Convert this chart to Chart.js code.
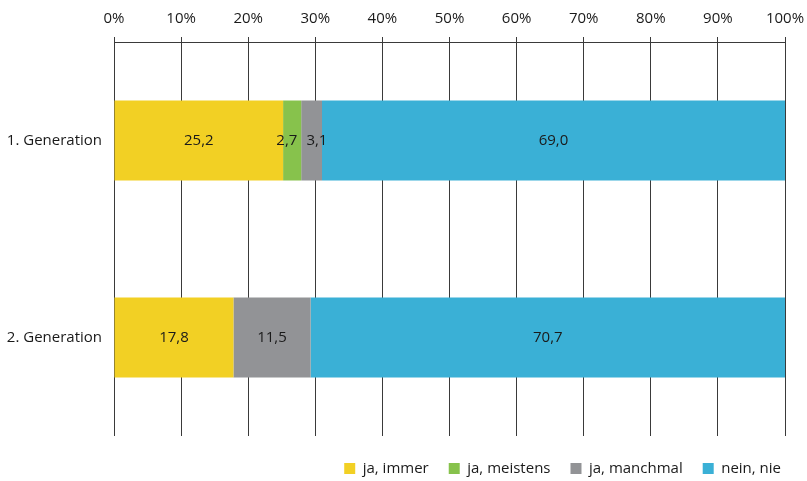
<!DOCTYPE html>
<html>
<head>
<meta charset="utf-8">
<script src="https://cdn.jsdelivr.net/npm/chart.js@4/dist/chart.umd.min.js"></script>
<style>
    html, body { margin: 0; padding: 0; background: #fff; }
    canvas { display: block; }
</style>
</head>
<body>
<canvas id="chart" width="807" height="481"></canvas>
<script>
const categories   = ['1. Generation', '2. Generation'];
const seriesNames  = ['ja, immer', 'ja, meistens', 'ja, manchmal', 'nein, nie'];
const jaImmer      = [25.2, 17.8];
const jaMeistens   = [2.7, 0];
const jaManchmal   = [3.1, 11.5];
const neinNie      = [69.0, 70.7];
const seriesColors = ['#F2D024', '#87C24C', '#929396', '#3AB0D6'];

const FONT = '"Open Sans", "Noto Sans", sans-serif';

// values written into the middle of each segment, pushed apart when they collide
const segmentLabels = {
    id: 'segmentLabels',
    afterInit(chart) {
        const legend = chart.legend;
        if (!legend) return;
        // fixed legend band under the plot, its row drawn a bit lower
        legend.afterFit = function () { this.height = 40; };
        const draw = legend.draw;
        legend.draw = function () {
            chart.ctx.save();
            chart.ctx.translate(0, 5);
            draw.call(this);
            chart.ctx.restore();
        };
    },
    afterDatasetsDraw(chart) {
        const ctx = chart.ctx;
        ctx.save();
        ctx.font = '15px ' + FONT;
        ctx.fillStyle = '#1a1a1a';
        ctx.textAlign = 'center';
        ctx.textBaseline = 'middle';
        const gap = 9;
        chart.data.labels.forEach((_, j) => {
            const items = [];
            chart.data.datasets.forEach((ds, i) => {
                const v = ds.data[j];
                if (!v) return;
                const p = chart.getDatasetMeta(i).data[j].getCenterPoint();
                const text = v.toFixed(1).replace('.', ',');
                items.push({ text, x: p.x, y: p.y, w: ctx.measureText(text).width });
            });
            for (let k = 1; k < items.length; k++) {
                const a = items[k - 1], b = items[k];
                const overlap = (a.x + a.w / 2 + gap) - (b.x - b.w / 2);
                if (overlap > 0) {
                    a.x -= overlap / 2;
                    b.x += overlap / 2;
                }
            }
            items.forEach(it => ctx.fillText(it.text, it.x, it.y));
        });
        ctx.restore();
    }
};

const seriesData = [jaImmer, jaMeistens, jaManchmal, neinNie];

new Chart(document.getElementById('chart'), {
    type: 'bar',
    data: {
        labels: categories,
        datasets: seriesNames.map((name, i) => ({
            label: name,
            data: seriesData[i],
            backgroundColor: seriesColors[i],
            borderWidth: 0,
            barPercentage: 0.81,
            categoryPercentage: 0.5,
        })),
    },
    options: {
        indexAxis: 'y',
        responsive: false,
        animation: false,
        layout: { padding: { top: 5, right: 6, bottom: 0, left: 0 } },
        plugins: {
            tooltip: { enabled: false },
            legend: {
                position: 'bottom',
                align: 'end',
                labels: {
                    boxWidth: 11,
                    boxHeight: 11,
                    padding: 20,
                    color: '#1a1a1a',
                    font: { family: FONT, size: 15 },
                },
            },
        },
        scales: {
            x: {
                position: 'top',
                stacked: true,
                min: 0,
                max: 100,
                ticks: {
                    stepSize: 10,
                    color: '#1a1a1a',
                    font: { family: FONT, size: 15 },
                    padding: 9,
                    callback: v => v + '%',
                },
                grid: { color: '#3a3a3a', lineWidth: 1, tickLength: 5 },
                border: { color: '#3a3a3a', width: 1 },
                afterFit: scale => {
                    scale.height = 37;
                    scale.paddingLeft = 0;
                    scale.paddingRight = 22;
                },
            },
            y: {
                stacked: true,
                ticks: {
                    color: '#1a1a1a',
                    font: { family: FONT, size: 15 },
                    padding: 12,
                },
                grid: { display: false, drawTicks: false },
                border: { display: false },
                afterFit: scale => { scale.width = 114; },
            },
        },
    },
    plugins: [segmentLabels],
});
</script>
</body>
</html>
